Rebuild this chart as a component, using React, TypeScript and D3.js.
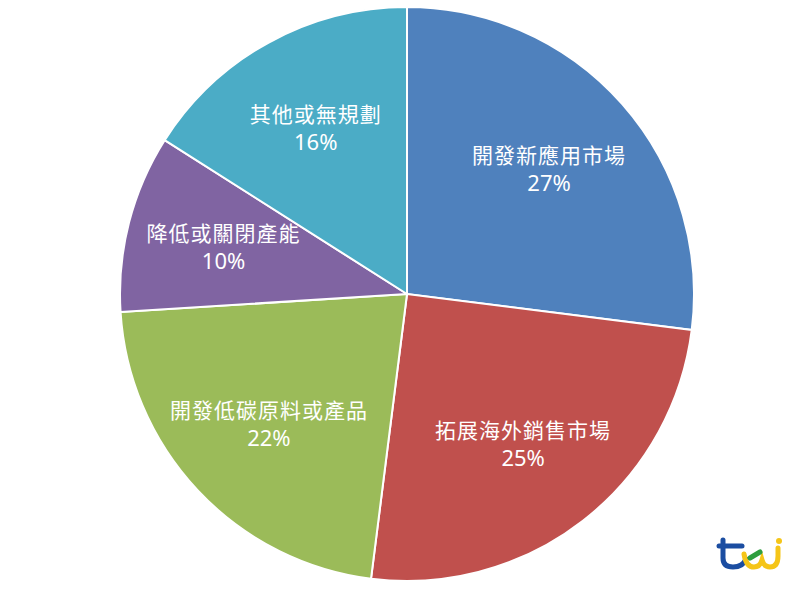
import React, { useEffect, useRef } from 'react';
import * as d3 from 'd3';

const categories = ['開發新應用市場', '拓展海外銷售市場', '開發低碳原料或產品', '降低或關閉產能', '其他或無規劃'];
const values = [27, 25, 22, 10, 16];
const colors = ['#4F81BD', '#C0504D', '#9BBB59', '#8064A2', '#4BACC6'];

const width = 805;
const height = 594;

const App: React.FC = () => {
  const svgRef = useRef<SVGSVGElement>(null);

  useEffect(() => {
    if (!svgRef.current) return;
    const svg = d3.select(svgRef.current);
    svg.selectAll('*').remove();

    const cx = 407;
    const cy = 294;
    const radius = 287;

    const data = categories.map((c, i) => ({ name: c, value: values[i], color: colors[i] }));

    const pie = d3.pie<typeof data[0]>()
      .value(d => d.value)
      .sort(null)
      .startAngle(0)
      .endAngle(Math.PI * 2);

    const arc = d3.arc<d3.PieArcDatum<typeof data[0]>>()
      .innerRadius(0)
      .outerRadius(radius);

    const labelArc = d3.arc<d3.PieArcDatum<typeof data[0]>>()
      .innerRadius(radius * 0.66)
      .outerRadius(radius * 0.66);

    const g = svg.append('g').attr('transform', `translate(${cx},${cy})`);
    const arcs = pie(data);

    g.selectAll('path.slice')
      .data(arcs)
      .enter().append('path')
      .attr('class', 'slice')
      .attr('d', arc)
      .attr('fill', d => d.data.color)
      .attr('stroke', '#fff')
      .attr('stroke-width', 2);

    const labels = g.selectAll('g.label')
      .data(arcs)
      .enter().append('g')
      .attr('class', 'label')
      .attr('transform', d => {
        const [x, y] = labelArc.centroid(d);
        return `translate(${x},${y})`;
      });

    labels.append('text')
      .attr('text-anchor', 'middle')
      .attr('y', -6)
      .style('font-family', '"Noto Sans CJK TC", "Noto Sans", sans-serif')
      .style('font-size', '21px')
      .style('letter-spacing', '1px')
      .style('fill', '#fff')
      .text(d => d.data.name);

    labels.append('text')
      .attr('text-anchor', 'middle')
      .attr('y', 22)
      .style('font-family', '"Noto Sans", "Open Sans", sans-serif')
      .style('font-size', '22px')
      .style('fill', '#fff')
      .text(d => `${d.data.value}%`);

    // logo
    const logo = svg.append('g').attr('transform', 'translate(718,538)');
    logo.append('path')
      .attr('d', 'M5,2 L5,20 Q5,29 15,29 Q25,29 28,21')
      .attr('fill', 'none')
      .attr('stroke', '#1B4DA1')
      .attr('stroke-width', 5)
      .attr('stroke-linecap', 'round');
    logo.append('path')
      .attr('d', 'M1,8 L24,8')
      .attr('fill', 'none')
      .attr('stroke', '#1B4DA1')
      .attr('stroke-width', 5)
      .attr('stroke-linecap', 'round');
    logo.append('path')
      .attr('d', 'M26,16 Q28,29 36,29 Q42,29 44,22 Q46,29 52,29 Q60,29 60,18 L60,10')
      .attr('fill', 'none')
      .attr('stroke', '#F5C518')
      .attr('stroke-width', 5)
      .attr('stroke-linecap', 'round');
    logo.append('circle')
      .attr('cx', 61).attr('cy', 3).attr('r', 3)
      .attr('fill', '#F5C518');
    logo.append('path')
      .attr('d', 'M32,20 L42,14')
      .attr('fill', 'none')
      .attr('stroke', '#2E9E3E')
      .attr('stroke-width', 5)
      .attr('stroke-linecap', 'round');
  }, []);

  return (
    <svg ref={svgRef} width={width} height={height} style={{ display: 'block', position: 'absolute', left: 0, top: 0, background: '#fff' }} />
  );
};

export default App;
